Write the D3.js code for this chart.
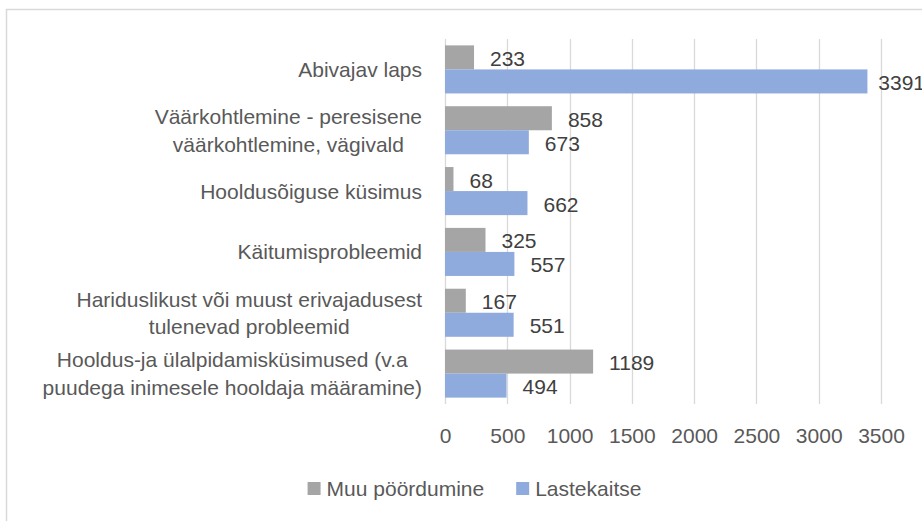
<!DOCTYPE html>
<html>
<head>
<meta charset="utf-8">
<script src="https://cdn.jsdelivr.net/npm/d3@7"></script>
<style>
  body { margin: 0; background: #fff; }
  svg { display: block; font-family: "Liberation Sans", Arial, sans-serif; }
</style>
</head>
<body>
<div id="chart"></div>
<script>
// categories top to bottom, each label split in lines like the original
const categories = [
  ["Abivajav laps"],
  ["Väärkohtlemine - peresisene", "väärkohtlemine, vägivald"],
  ["Hooldusõiguse küsimus"],
  ["Käitumisprobleemid"],
  ["Hariduslikust või muust erivajadusest", "tulenevad probleemid"],
  ["Hooldus-ja ülalpidamisküsimused (v.a", "puudega inimesele hooldaja määramine)"]
];
const seriesNames = ["Muu pöördumine", "Lastekaitse"];
const muuValues = [233, 858, 68, 325, 167, 1189];
const lasteValues = [3391, 673, 662, 557, 551, 494];
const xTicks = [0, 500, 1000, 1500, 2000, 2500, 3000, 3500];
const colors = ["#a5a5a5", "#8faadc"];

const W = 922, H = 521;
const margin = { top: 39, right: 41, bottom: 117, left: 445 };

const svg = d3.select("#chart").append("svg")
  .attr("width", W)
  .attr("height", H);

// chart frame (right and bottom edges fall outside the picture)
svg.append("rect")
  .attr("x", 6.5).attr("y", 9.5)
  .attr("width", W + 10).attr("height", H + 10)
  .attr("fill", "none")
  .attr("stroke", "#d9d9d9")
  .attr("stroke-width", 1.5);

const x = d3.scaleLinear()
  .domain([0, 3500])
  .range([margin.left, W - margin.right]);

const y = d3.scaleBand()
  .domain(d3.range(categories.length))
  .range([margin.top, H - margin.bottom])
  .paddingInner(0.21)
  .paddingOuter(0.105);

const ySub = d3.scaleBand()
  .domain([0, 1])
  .range([0, y.bandwidth()]);

// gridlines
svg.append("g").selectAll("line")
  .data(xTicks)
  .enter().append("line")
  .attr("x1", d => Math.round(x(d)) + 0.5)
  .attr("x2", d => Math.round(x(d)) + 0.5)
  .attr("y1", margin.top)
  .attr("y2", H - margin.bottom)
  .attr("stroke", "#d9d9d9")
  .attr("stroke-width", 1.3);

// x axis labels
const xAxis = svg.append("g")
  .attr("transform", "translate(0," + (H - margin.bottom) + ")")
  .call(d3.axisBottom(x).tickValues(xTicks).tickFormat(d3.format("d")).tickSize(0).tickPadding(0));
xAxis.select(".domain").remove();
xAxis.selectAll("text")
  .attr("y", 39)
  .attr("dy", null)
  .attr("fill", "#595959")
  .style("font-size", "21px")
  .style("font-family", "'Liberation Sans', Arial, sans-serif");

// bars
const series = [muuValues, lasteValues];
series.forEach(function (vals, s) {
  const g = svg.append("g");
  g.selectAll("rect")
    .data(vals)
    .enter().append("rect")
    .attr("x", x(0))
    .attr("y", (d, i) => y(i) + ySub(s))
    .attr("width", d => x(d) - x(0))
    .attr("height", ySub.bandwidth())
    .attr("fill", colors[s]);

  g.selectAll("text")
    .data(vals)
    .enter().append("text")
    .attr("x", d => x(d) + 16)
    .attr("y", (d, i) => y(i) + ySub(s) + ySub.bandwidth() / 2 + 8.5)
    .attr("fill", "#404040")
    .style("font-size", "21px")
    .text(d => d)
    .each(function () {
      // keep labels inside the picture like the original
      const w = this.getComputedTextLength();
      const cur = +d3.select(this).attr("x");
      if (cur + w > W + 3) d3.select(this).attr("x", W + 3 - w);
    });
});

// category labels: block right-aligned, lines centered inside block
const lineH = 27.5;
const labelRight = 422;
const cat = svg.append("g").selectAll("g")
  .data(categories)
  .enter().append("g");

cat.each(function (lines, i) {
  const g = d3.select(this);
  const cy = y(i) + y.bandwidth() / 2;
  const t = g.selectAll("text")
    .data(lines)
    .enter().append("text")
    .attr("y", (d, j) => cy + (j - (lines.length - 1) / 2) * lineH + 7.5)
    .attr("fill", "#595959")
    .attr("text-anchor", "middle")
    .style("font-size", "21px")
    .text(d => d);
  let maxW = 0;
  t.each(function () { maxW = Math.max(maxW, this.getComputedTextLength()); });
  t.attr("x", labelRight - maxW / 2);
});

// legend
const legend = svg.append("g");
const items = legend.selectAll("g")
  .data(seriesNames)
  .enter().append("g");
items.append("rect")
  .attr("width", 13).attr("height", 13)
  .attr("y", 482)
  .attr("fill", (d, i) => colors[i]);
items.append("text")
  .attr("x", 19)
  .attr("y", 496)
  .attr("fill", "#595959")
  .style("font-size", "21px")
  .text(d => d);

let widths = [];
items.each(function () {
  widths.push(19 + d3.select(this).select("text").node().getComputedTextLength());
});
const gap = 32;
const total = d3.sum(widths) + gap * (widths.length - 1);
let lx = 474.5 - total / 2;
items.each(function (d, i) {
  d3.select(this).attr("transform", "translate(" + lx + ",0)");
  lx += widths[i] + gap;
});
</script>
</body>
</html>
